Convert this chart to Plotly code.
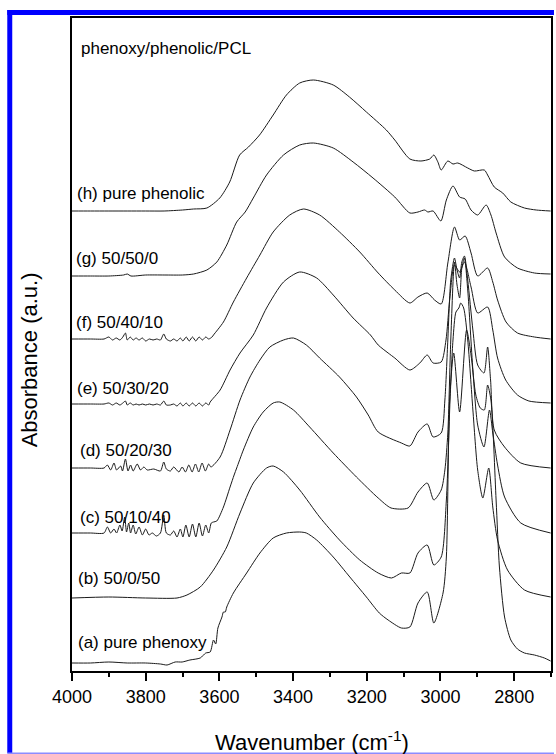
import plotly.graph_objects as go

# ---------------- data (wavenumber in cm-1, stacked absorbance in a.u.) ----------------
wn_h = [4000, 3950, 3900, 3850, 3800, 3750, 3700, 3670, 3634, 3599, 3572, 3545, 3521, 3491, 3454, 3418, 3382, 3345, 3291, 3247, 3201, 3147, 3124, 3083, 3053, 3029, 3018, 3007, 2998, 2980, 2966, 2953, 2926, 2908, 2881, 2872, 2854, 2831, 2809, 2772, 2740, 2701]
abs_h = [4.60, 4.60, 4.60, 4.60, 4.60, 4.60, 4.61, 4.62, 4.63, 4.73, 4.89, 5.16, 5.24, 5.36, 5.56, 5.76, 5.88, 5.91, 5.86, 5.74, 5.59, 5.41, 5.31, 5.12, 5.10, 5.12, 5.16, 5.09, 5.01, 5.10, 5.07, 5.08, 5.03, 5.00, 5.01, 4.96, 4.84, 4.78, 4.69, 4.63, 4.61, 4.60]

wn_g = [4000, 3950, 3900, 3860, 3850, 3840, 3800, 3750, 3700, 3670, 3634, 3607, 3580, 3553, 3530, 3508, 3472, 3426, 3382, 3345, 3291, 3237, 3183, 3124, 3083, 3061, 3043, 3034, 3020, 2999, 2984, 2966, 2948, 2933, 2917, 2899, 2876, 2863, 2849, 2826, 2791, 2745, 2701]
abs_g = [3.95, 3.95, 3.95, 3.96, 3.97, 3.95, 3.96, 3.96, 3.96, 3.97, 4.01, 4.09, 4.26, 4.49, 4.59, 4.73, 4.96, 5.16, 5.26, 5.28, 5.23, 5.09, 4.93, 4.74, 4.58, 4.59, 4.61, 4.59, 4.60, 4.50, 4.71, 4.85, 4.74, 4.72, 4.61, 4.56, 4.66, 4.56, 4.38, 4.14, 4.03, 3.98, 3.97]

wn_f = [4000, 3950, 3913, 3900, 3890, 3880, 3870, 3862, 3855, 3850, 3842, 3834, 3826, 3818, 3809, 3800, 3790, 3780, 3770, 3760, 3751, 3744, 3733, 3724, 3715, 3706, 3699, 3690, 3682, 3673, 3664, 3655, 3646, 3637, 3629, 3620, 3616, 3589, 3562, 3526, 3490, 3454, 3409, 3372, 3328, 3274, 3219, 3169, 3124, 3083, 3061, 3036, 3016, 2998, 2980, 2962, 2948, 2933, 2917, 2899, 2872, 2858, 2845, 2822, 2791, 2745, 2701]
abs_f = [3.32, 3.32, 3.32, 3.34, 3.31, 3.33, 3.31, 3.34, 3.38, 3.31, 3.34, 3.31, 3.33, 3.31, 3.33, 3.30, 3.32, 3.31, 3.32, 3.31, 3.37, 3.32, 3.30, 3.32, 3.30, 3.33, 3.30, 3.34, 3.30, 3.34, 3.30, 3.34, 3.31, 3.34, 3.32, 3.34, 3.36, 3.49, 3.69, 3.93, 4.16, 4.39, 4.56, 4.62, 4.56, 4.39, 4.19, 3.98, 3.81, 3.68, 3.74, 3.78, 3.71, 3.67, 4.08, 4.44, 4.31, 4.35, 4.18, 3.95, 4.03, 3.89, 3.71, 3.49, 3.38, 3.34, 3.32]

wn_e = [4000, 3950, 3913, 3900, 3890, 3880, 3870, 3862, 3855, 3850, 3842, 3834, 3826, 3818, 3809, 3800, 3790, 3780, 3770, 3760, 3751, 3744, 3733, 3724, 3715, 3706, 3699, 3690, 3682, 3673, 3664, 3655, 3646, 3637, 3629, 3625, 3598, 3571, 3544, 3508, 3472, 3426, 3382, 3336, 3291, 3237, 3190, 3169, 3142, 3124, 3083, 3056, 3036, 3020, 2998, 2985, 2975, 2962, 2948, 2935, 2917, 2899, 2872, 2858, 2845, 2823, 2791, 2760, 2701]
abs_e = [2.67, 2.67, 2.67, 2.68, 2.66, 2.68, 2.66, 2.68, 2.70, 2.66, 2.68, 2.66, 2.67, 2.66, 2.67, 2.66, 2.67, 2.66, 2.67, 2.66, 2.70, 2.66, 2.66, 2.67, 2.65, 2.68, 2.65, 2.68, 2.65, 2.68, 2.65, 2.68, 2.65, 2.68, 2.66, 2.69, 2.81, 3.01, 3.18, 3.36, 3.63, 3.89, 3.99, 3.93, 3.76, 3.53, 3.36, 3.26, 3.18, 3.13, 3.01, 3.08, 3.16, 3.08, 3.09, 3.31, 3.71, 4.06, 3.99, 4.09, 3.84, 3.58, 3.64, 3.41, 3.13, 2.91, 2.76, 2.70, 2.68]

wn_d = [4000, 3950, 3913, 3904, 3895, 3886, 3879, 3868, 3863, 3855, 3848, 3841, 3834, 3823, 3814, 3805, 3796, 3778, 3760, 3751, 3744, 3733, 3724, 3710, 3701, 3692, 3683, 3674, 3665, 3656, 3647, 3638, 3629, 3623, 3598, 3571, 3544, 3517, 3490, 3463, 3426, 3399, 3364, 3328, 3274, 3228, 3196, 3169, 3106, 3083, 3061, 3036, 3020, 2998, 2988, 2980, 2972, 2962, 2955, 2948, 2942, 2935, 2926, 2912, 2899, 2882, 2872, 2864, 2854, 2826, 2782, 2701]
abs_d = [2.03, 2.03, 2.03, 2.06, 2.01, 2.08, 2.01, 2.05, 2.00, 2.12, 2.00, 2.06, 2.00, 2.07, 2.01, 2.04, 2.01, 2.02, 2.00, 2.09, 2.02, 2.00, 2.04, 1.99, 2.04, 1.99, 2.06, 1.99, 2.07, 1.99, 2.08, 2.00, 2.07, 2.04, 2.14, 2.41, 2.71, 2.94, 3.11, 3.24, 3.31, 3.33, 3.26, 3.13, 2.94, 2.74, 2.56, 2.39, 2.28, 2.25, 2.39, 2.47, 2.34, 2.38, 2.71, 3.31, 3.91, 4.13, 4.01, 3.93, 4.09, 4.15, 3.91, 3.41, 3.06, 2.98, 3.24, 2.91, 2.41, 2.24, 2.08, 2.03]

wn_c = [4000, 3950, 3913, 3904, 3895, 3886, 3879, 3870, 3864, 3857, 3852, 3846, 3841, 3834, 3827, 3818, 3809, 3800, 3791, 3782, 3771, 3760, 3751, 3744, 3733, 3724, 3715, 3706, 3699, 3691, 3682, 3673, 3664, 3655, 3646, 3637, 3629, 3622, 3616, 3607, 3589, 3571, 3560, 3553, 3535, 3508, 3481, 3454, 3436, 3399, 3355, 3291, 3228, 3169, 3134, 3088, 3061, 3036, 3018, 2998, 2988, 2980, 2972, 2962, 2955, 2948, 2942, 2935, 2926, 2912, 2899, 2882, 2867, 2858, 2845, 2826, 2782, 2701]
abs_c = [1.38, 1.38, 1.38, 1.44, 1.38, 1.42, 1.38, 1.46, 1.40, 1.54, 1.39, 1.48, 1.38, 1.46, 1.37, 1.44, 1.36, 1.42, 1.36, 1.38, 1.35, 1.38, 1.56, 1.38, 1.36, 1.40, 1.34, 1.42, 1.34, 1.46, 1.34, 1.47, 1.34, 1.48, 1.35, 1.46, 1.38, 1.48, 1.49, 1.50, 1.64, 1.84, 1.96, 2.03, 2.21, 2.44, 2.59, 2.68, 2.69, 2.61, 2.44, 2.18, 1.94, 1.73, 1.63, 1.63, 1.79, 1.88, 1.71, 1.81, 2.01, 2.38, 3.31, 4.09, 3.86, 3.73, 4.03, 4.13, 3.81, 3.01, 2.46, 2.24, 2.61, 2.38, 2.06, 1.74, 1.48, 1.38]

wn_b = [4000, 3900, 3800, 3715, 3688, 3652, 3616, 3580, 3544, 3508, 3472, 3454, 3426, 3382, 3328, 3274, 3219, 3169, 3133, 3106, 3083, 3061, 3036, 3018, 2998, 2984, 2974, 2966, 2958, 2950, 2945, 2937, 2926, 2912, 2899, 2885, 2869, 2858, 2845, 2818, 2772, 2701]
abs_b = [0.73, 0.74, 0.73, 0.73, 0.76, 0.84, 1.01, 1.24, 1.58, 1.88, 2.03, 2.05, 1.99, 1.81, 1.54, 1.31, 1.11, 0.98, 0.93, 0.98, 0.98, 1.18, 1.26, 1.06, 1.14, 1.71, 2.71, 3.31, 3.59, 3.63, 3.68, 3.63, 3.31, 2.61, 2.01, 1.73, 2.03, 1.64, 1.31, 1.01, 0.81, 0.74]

wn_a = [4000, 3950, 3900, 3850, 3800, 3760, 3742, 3720, 3701, 3680, 3652, 3637, 3625, 3616, 3610, 3604, 3593, 3589, 3584, 3580, 3562, 3526, 3490, 3454, 3418, 3382, 3364, 3336, 3291, 3246, 3201, 3166, 3142, 3106, 3083, 3061, 3036, 3018, 2993, 2984, 2975, 2964, 2948, 2929, 2917, 2904, 2892, 2881, 2872, 2863, 2849, 2840, 2826, 2809, 2791, 2772, 2745, 2718, 2701]
abs_a = [0.08, 0.08, 0.09, 0.08, 0.08, 0.07, 0.06, 0.09, 0.09, 0.11, 0.13, 0.18, 0.19, 0.31, 0.27, 0.43, 0.54, 0.59, 0.59, 0.64, 0.78, 0.98, 1.18, 1.33, 1.38, 1.39, 1.38, 1.31, 1.14, 0.94, 0.74, 0.58, 0.51, 0.43, 0.44, 0.68, 0.79, 0.48, 0.78, 1.14, 2.71, 3.18, 2.59, 3.41, 3.16, 2.76, 2.63, 2.61, 2.86, 2.71, 1.71, 1.04, 0.54, 0.31, 0.22, 0.18, 0.16, 0.13, 0.10]

series = [
    ("(a) pure phenoxy", wn_a, abs_a),
    ("(b) 50/0/50", wn_b, abs_b),
    ("(c) 50/10/40", wn_c, abs_c),
    ("(d) 50/20/30", wn_d, abs_d),
    ("(e) 50/30/20", wn_e, abs_e),
    ("(f) 50/40/10", wn_f, abs_f),
    ("(g) 50/50/0", wn_g, abs_g),
    ("(h) pure phenolic", wn_h, abs_h),
]

label_text = ["(a) pure phenoxy", "(b) 50/0/50", "(c) 50/10/40", "(d) 50/20/30",
              "(e) 50/30/20", "(f) 50/40/10", "(g) 50/50/0", "(h) pure phenolic"]
label_wn = [3988, 3988, 3983, 3983, 3993, 3995, 3995, 3993]
label_abs = [0.29, 0.93, 1.54, 2.21, 2.83, 3.49, 4.13, 4.78]
title_text = "phenoxy/phenolic/PCL"
tick_vals = [4000, 3800, 3600, 3400, 3200, 3000, 2800]

FONT = "Liberation Sans, Arial, Helvetica, sans-serif"

fig = go.Figure()
for name, x, y in series:
    fig.add_trace(go.Scatter(x=x, y=y, mode="lines", name=name,
                             line=dict(color="#1a1a1a", width=1, shape="spline", smoothing=0.7),
                             showlegend=False, hoverinfo="skip"))

annotations = []
for t, xw, ya in zip(label_text, label_wn, label_abs):
    annotations.append(dict(x=xw, y=ya, xref="x", yref="y", text=t, showarrow=False,
                            xanchor="left", yanchor="middle",
                            font=dict(family=FONT, size=17, color="black")))
annotations.append(dict(x=3980, y=6.23, xref="x", yref="y", text=title_text, showarrow=False,
                        xanchor="left", yanchor="middle",
                        font=dict(family=FONT, size=17, color="black")))
# axis titles
annotations.append(dict(x=0.5, y=-0.107, xref="paper", yref="paper",
                        text="Wavenumber (cm<sup>-1</sup>)", showarrow=False,
                        xanchor="center", yanchor="middle",
                        font=dict(family=FONT, size=22, color="black")))
annotations.append(dict(x=-0.0894, y=0.476, xref="paper", yref="paper",
                        text="Absorbance (a.u.)", showarrow=False, textangle=-90,
                        xanchor="center", yanchor="middle",
                        font=dict(family=FONT, size=22, color="black")))

# blue border of the original figure
W, H = 556, 754
L, R, T, B = 72, 3, 18, 83
pw, ph = W - L - R, H - T - B
def px(xp):
    return (xp - L) / pw
def py(yp):
    return (H - B - yp) / ph

shapes = [
    dict(type="rect", xref="paper", yref="paper", x0=px(7), x1=px(12), y0=py(753), y1=py(10),
         fillcolor="#0000ff", line=dict(width=0), layer="above"),
    dict(type="rect", xref="paper", yref="paper", x0=px(7), x1=px(556), y0=py(15), y1=py(10),
         fillcolor="#0000ff", line=dict(width=0), layer="above"),
    dict(type="rect", xref="paper", yref="paper", x0=px(7), x1=px(556), y0=py(754), y1=py(752.5),
         fillcolor="#8c8cff", line=dict(width=0), layer="above"),
]

fig.update_layout(
    width=W, height=H,
    margin=dict(l=L, r=R, t=T, b=B, pad=0),
    paper_bgcolor="white", plot_bgcolor="white",
    annotations=annotations, shapes=shapes,
    font=dict(family=FONT, color="black"),
)
fig.update_xaxes(range=[4000, 2700], tickvals=tick_vals, ticktext=[str(v) for v in tick_vals],
                 ticks="outside", ticklen=8, tickwidth=2, tickcolor="black",
                 minor=dict(ticks="outside", ticklen=4, tickwidth=2, tickcolor="black", dtick=100, tick0=2700),
                 showline=True, linewidth=2, linecolor="black", mirror=True,
                 showgrid=False, zeroline=False,
                 tickfont=dict(family=FONT, size=18, color="black"))
fig.update_yaxes(range=[0, 6.53], showticklabels=False, ticks="",
                 showline=True, linewidth=2, linecolor="black", mirror=True,
                 showgrid=False, zeroline=False)

fig.write_html("out.html", config={"displayModeBar": False, "staticPlot": True},
               post_script="document.body.style.margin='0';document.body.style.overflow='hidden';")
